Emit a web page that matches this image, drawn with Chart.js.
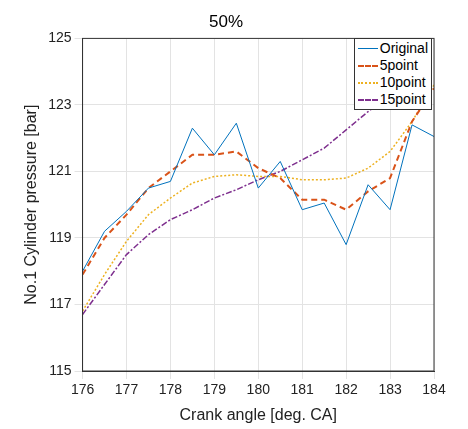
<!DOCTYPE html>
<html><head><meta charset="utf-8">
<script src="https://cdn.jsdelivr.net/npm/chart.js@4"></script>
<style>
body{margin:0;background:#fff;font-family:"Liberation Sans",Arial,sans-serif}
#wrap{position:relative;width:468px;height:429px}
#lg{position:absolute;top:38px;right:36px;background:#fff;border:1px solid #333;font-size:14px;padding:1px 3px;line-height:17px}
#lg div{display:flex;align-items:center}
#lg span{display:inline-block;width:20px;height:0;margin-right:2px}
</style></head><body>
<div id="wrap"><canvas id="c" width="468" height="429"></canvas>
<div id="lg">
<div><span style="border-top:1px solid #0072BD"></span>Original</div>
<div><span style="border-top:2px dashed #D95319"></span>5point</div>
<div><span style="border-top:2px dotted #EDB120"></span>10point</div>
<div><span style="border-top:2px dashed #7E2F8E"></span>15point</div>
</div></div>
<script>
const angles = [176,176.5,177,177.5,178,178.5,179,179.5,180,180.5,181,181.5,182,182.5,183,183.5,184];
const original = [118.0,119.2,119.8,120.5,120.7,122.3,121.5,122.45,120.5,121.3,119.85,120.05,118.8,120.6,119.85,122.4,122.05];
const point5 = [117.9,119.0,119.7,120.5,121.0,121.5,121.5,121.6,121.1,120.8,120.15,120.15,119.85,120.4,120.8,122.5,123.5];
const point10 = [116.8,117.9,118.9,119.7,120.2,120.65,120.85,120.9,120.85,120.85,120.75,120.75,120.8,121.1,121.6,122.5,123.6];
const point15 = [116.7,117.6,118.5,119.1,119.55,119.85,120.2,120.45,120.75,121.0,121.35,121.7,122.25,122.8,123.3,124.0,125.2];

const mk = (label, ys, color, width, dash) => ({
  label, data: angles.map((x, i) => ({x, y: ys[i]})),
  borderColor: color, borderWidth: width, borderDash: dash,
  pointRadius: 0, fill: false, tension: 0
});

// рамка вокруг области графика
const boxPlugin = {
  id: 'box',
  afterDraw(chart) {
    const {ctx, chartArea: a} = chart;
    ctx.save();
    ctx.strokeStyle = '#333';
    ctx.lineWidth = 1;
    ctx.strokeRect(a.left, a.top, a.right - a.left, a.bottom - a.top);
    ctx.restore();
  }
};

new Chart(document.getElementById('c'), {
  type: 'line',
  data: { datasets: [
    mk('Original', original, '#0072BD', 1, []),
    mk('5point', point5, '#D95319', 2, [6, 4]),
    mk('10point', point10, '#EDB120', 1.5, [2, 2]),
    mk('15point', point15, '#7E2F8E', 1.5, [6, 2, 2, 2])
  ]},
  options: {
    responsive: false, animation: false,
    layout: { padding: { left: 18, right: 34 } },
    plugins: {
      legend: { display: false },
      title: { display: true, text: '50%', color: '#000', font: { size: 17, weight: 'normal' }, padding: { top: 12, bottom: 6 } }
    },
    scales: {
      x: { type: 'linear', min: 176, max: 184,
        ticks: { stepSize: 1, color: '#222', font: { size: 14 } },
        grid: { color: '#e3e3e3' }, border: { color: '#333' },
        title: { display: true, text: 'Crank angle [deg. CA]', color: '#222', font: { size: 16 } } },
      y: { min: 115, max: 125,
        ticks: { stepSize: 2, color: '#222', font: { size: 14 } },
        grid: { color: '#e3e3e3' }, border: { color: '#333' },
        title: { display: true, text: 'No.1 Cylinder pressure [bar]', color: '#222', font: { size: 16 } } }
    }
  },
  plugins: [boxPlugin]
});
</script></body></html>
